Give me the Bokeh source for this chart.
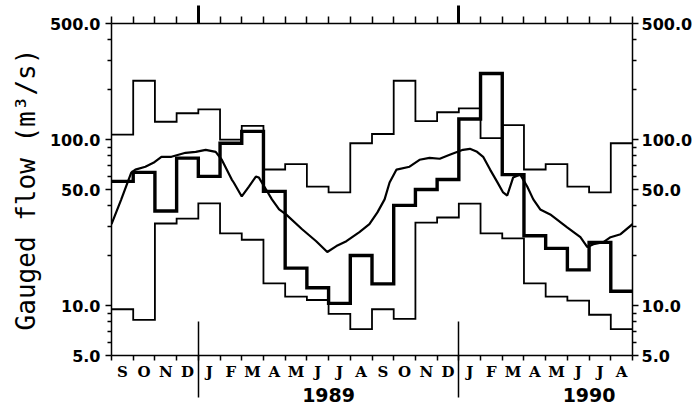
from bokeh.plotting import figure
from bokeh.models import Range1d, FixedTicker, LinearAxis, LogAxis, PrintfTickFormatter
from bokeh.embed import file_html
from bokeh.resources import INLINE

# ---- data ----
months = ["S", "O", "N", "D", "J", "F", "M", "A", "M", "J", "J", "A",
          "S", "O", "N", "D", "J", "F", "M", "A", "M", "J", "J", "A"]
years = ["1989", "1990"]
year_label_month = [10, 22]      # month index (from Sep 1988) where year label sits
year_start_month = [4, 16]       # January 1989, January 1990

# monthly gauged flow Sep 1988 - Aug 1990 (thick step)
flow_monthly = [56, 63.4, 37.1, 77.3, 60, 95, 112, 48.7, 16.8, 12.8, 10.3, 20.0,
                13.5, 40.1, 50, 57.4, 133, 250, 61.5, 26.3, 22.1, 16.4, 24.0, 12.2]
# monthly maximum (thin upper step)
flow_max = [107, 226, 128, 144, 152, 100, 121, 66, 71, 52, 48, 95,
            108, 226, 129, 146, 154, 102, 122, 66, 71, 52, 48, 95]
# monthly minimum (thin lower step)
flow_min = [9.5, 8.2, 31.2, 33.4, 41.2, 27.2, 24.9, 13.6, 11.3, 10.8, 8.9, 7.2,
            9.5, 8.3, 31.6, 33.9, 41.1, 27.2, 25.4, 13.6, 11.3, 10.7, 8.8, 7.2]
# smooth mean-flow curve (time in months from 1 Sep 1988, flow)
mean_t = [0.0, 0.45, 0.91, 1.10, 1.56, 1.93, 2.30, 2.76, 3.41, 3.88, 4.34, 4.80,
          5.08, 5.54, 5.63, 6.00, 6.33, 6.65, 6.79, 7.12, 7.39, 7.72, 8.04, 8.78,
          9.43, 9.94, 10.36, 10.82, 11.42, 11.88, 12.25, 12.58, 12.81, 13.13, 13.73,
          14.19, 14.65, 15.12, 15.58, 16.19, 16.51, 16.84, 17.12, 17.44, 17.76, 18.04,
          18.23, 18.50, 18.83, 19.15, 19.43, 19.75, 20.21, 20.99, 21.60, 21.92, 22.20,
          22.66, 22.99, 23.45, 24.0]
mean_q = [30.9, 43.6, 63.2, 65.9, 68.6, 72.4, 78.7, 78.7, 83.2, 84.3, 86.7, 84.3,
          75.5, 57.4, 55.1, 45.4, 52.1, 59.8, 59.0, 50.0, 43.6, 37.9, 35.4, 28.8,
          24.4, 21.0, 22.8, 24.4, 27.7, 30.9, 36.4, 43.6, 55.1, 65.9, 68.6,
          75.5, 77.6, 76.6, 80.9, 86.7, 87.9, 84.3, 78.7, 65.9, 55.8, 48.0,
          46.0, 59.0, 61.5, 52.1, 43.6, 37.9, 35.4, 29.6, 25.8, 22.5, 23.4,
          24.1, 25.8, 26.9, 30.9]

y_major = [5, 10, 50, 100, 500]
y_minor = [6, 7, 8, 9, 20, 30, 40, 60, 70, 80, 90, 200, 300, 400]

n = len(months)
edges = list(range(n + 1))
centers = [i + 0.5 for i in range(n)]

p = figure(width=698, height=405, x_range=Range1d(0, n), y_range=Range1d(5, 500),
           y_axis_type="log", output_backend="svg", toolbar_location=None,
           min_border_left=111, min_border_right=66, min_border_top=23,
           min_border_bottom=50)
p.grid.visible = False
p.outline_line_color = None
p.background_fill_color = "white"
p.border_fill_color = "white"

def step(vals, w):
    p.step(edges, vals + [vals[-1]], mode="after", line_color="black",
           line_width=w, line_join="miter")

step(flow_max, 1.8)
step(flow_min, 1.8)
step(flow_monthly, 3.4)
p.line(mean_t, mean_q, line_color="black", line_width=2.2)

tick_font = "DejaVu Sans"

def style_y(ax):
    ax.ticker = FixedTicker(ticks=y_major, minor_ticks=y_minor)
    ax.formatter = PrintfTickFormatter(format="%.1f")
    ax.axis_line_width = 1.5
    ax.axis_line_color = "black"
    ax.major_tick_out = 6
    ax.major_tick_in = 0
    ax.minor_tick_out = 4
    ax.minor_tick_in = 0
    ax.major_tick_line_width = 1.5
    ax.minor_tick_line_width = 1.5
    ax.major_label_text_font = tick_font
    ax.major_label_text_font_style = "bold"
    ax.major_label_text_font_size = "16px"
    ax.major_label_text_color = "black"

# left axis
ly = p.yaxis[0]
style_y(ly)
ly.major_label_standoff = 5
ly.axis_label = "Gauged flow (m\u00b3/s)"
ly.axis_label_text_font = "DejaVu Sans Mono"
ly.axis_label_text_font_style = "normal"
ly.axis_label_text_font_size = "26px"
ly.axis_label_text_color = "black"
ly.axis_label_standoff = 6

# right axis
ry = LogAxis()
style_y(ry)
ry.major_label_standoff = 3
p.add_layout(ry, "right")

# bottom axis: month letters, boundary ticks
bx = p.xaxis[0]
bx.ticker = FixedTicker(ticks=centers, minor_ticks=edges)
bx.major_label_overrides = {c: m for c, m in zip(centers, months)}
bx.axis_line_width = 1.5
bx.major_tick_out = 0
bx.major_tick_in = 0
bx.minor_tick_out = 5
bx.minor_tick_in = 0
bx.minor_tick_line_width = 1.5
bx.major_label_standoff = 2
bx.major_label_text_font = "DejaVu Serif"
bx.major_label_text_font_style = "bold"
bx.major_label_text_font_size = "15px"
bx.major_label_text_color = "black"

# second bottom axis: years, long year-boundary lines
yx = LinearAxis(ticker=FixedTicker(ticks=year_label_month, minor_ticks=year_start_month))
yx.major_label_overrides = {m: y for m, y in zip(year_label_month, years)}
yx.axis_line_color = None
yx.major_tick_out = 0
yx.major_tick_in = 0
yx.minor_tick_in = 62
yx.minor_tick_out = 14
yx.minor_tick_line_width = 1.5
yx.minor_tick_line_color = "black"
yx.major_label_standoff = -10
yx.major_label_text_font = tick_font
yx.major_label_text_font_style = "bold"
yx.major_label_text_font_size = "19px"
yx.major_label_text_color = "black"
p.add_layout(yx, "below")

# top axis: month boundary ticks (no labels)
tx = LinearAxis(ticker=FixedTicker(ticks=[], minor_ticks=edges))
tx.axis_line_width = 1.5
tx.major_label_standoff = 0
tx.minor_tick_out = 7
tx.minor_tick_in = 0
tx.minor_tick_line_width = 1.5
p.add_layout(tx, "above")

# second top axis: thick ticks at year starts (no labels)
tx2 = LinearAxis(ticker=FixedTicker(ticks=[], minor_ticks=year_start_month))
tx2.axis_line_color = None
tx2.major_label_standoff = 0
tx2.minor_tick_in = 7
tx2.minor_tick_out = 11
tx2.minor_tick_line_width = 3
tx2.minor_tick_line_color = "black"
p.add_layout(tx2, "above")

open("out.html", "w").write(file_html(p, INLINE))
